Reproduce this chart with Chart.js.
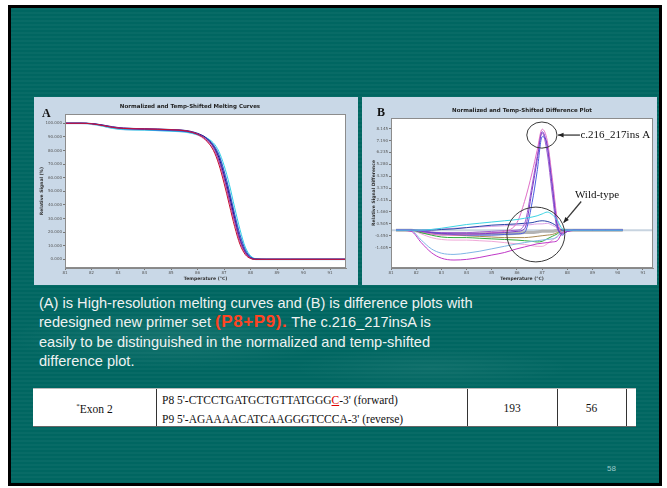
<!DOCTYPE html>
<html>
<head>
<meta charset="utf-8">
<script src="https://cdn.jsdelivr.net/npm/chart.js@4.4.1/dist/chart.umd.min.js"></script>
<style>
  body { margin: 0; width: 667px; height: 488px; overflow: hidden; background: #fff; position: relative;
         font-family: "Liberation Sans", Arial, sans-serif; }
  .slide { position: absolute; left: 8px; top: 5px; width: 654px; height: 481px; box-sizing: border-box;
           border: 3px solid #000;
           background:
             radial-gradient(ellipse 230px 45px at 160px 330px, rgba(255,255,255,0.08), rgba(255,255,255,0) 70%),
             radial-gradient(ellipse 200px 30px at 420px 360px, rgba(255,255,255,0.05), rgba(255,255,255,0) 70%),
             repeating-linear-gradient(180deg, rgba(255,255,255,0.03) 0 2px, rgba(0,0,0,0) 2px 4px),
             #006661; }
  canvas { position: absolute; }
  #chartA { left: 34px; top: 97px; }
  #chartB { left: 362px; top: 97px; }
  .caption { position: absolute; left: 39px; top: 294px; width: 470px; color: #eef2f2;
             font-size: 14.6px; line-height: 19.3px; white-space: nowrap; }
  .caption .hl { color: #ff4422; font-weight: bold; font-size: 17px; line-height: 17px; letter-spacing: 0.6px; }
  .tbl { position: absolute; left: 33px; top: 388px; width: 603px; height: 39px; background: #fff;
         border-top: 1px solid #bbb; border-bottom: 1px solid #666; box-sizing: border-box;
         font-family: "Liberation Serif", "Times New Roman", serif; font-size: 11.5px; color: #111; }
  .tbl .col { position: absolute; top: 0; bottom: 0; border-left: 1px solid #333; }
  .tbl .txt { position: absolute; top: 0; height: 38px; display: flex; align-items: center; justify-content: center; }
  .tbl .primer { position: absolute; left: 129px; top: 2px; line-height: 19px; white-space: nowrap; }
  .tbl .red { color: #e00000; text-decoration: underline; }
  .page { position: absolute; left: 607px; top: 464px; font-size: 8px; color: #9ccaca; }
</style>
</head>
<body>
<div class="slide"></div>
<canvas id="chartA" width="324" height="188"></canvas>
<canvas id="chartB" width="295" height="188"></canvas>

<div class="caption">(A) is High-resolution melting curves and (B) is difference plots with<br>redesigned new primer set <span class="hl">(P8+P9).</span> The c.216_217insA is<br>easily to be distinguished in the normalized and temp-shifted<br>difference plot.</div>

<div class="tbl">
  <div class="txt" style="left:0;width:123px;"><span><sup style="font-size:7px;">*</sup>Exon 2</span></div>
  <div class="col" style="left:123px;"></div>
  <div class="primer">P8 5'-CTCCTGATGCTGTTATGGG<span class="red">C</span>-3' (forward)<br>P9 5'-AGAAAACATCAAGGGTCCCA-3' (reverse)</div>
  <div class="col" style="left:434px;"></div>
  <div class="txt" style="left:434px;width:90px;">193</div>
  <div class="col" style="left:524px;"></div>
  <div class="txt" style="left:524px;width:69px;">56</div>
  <div class="col" style="left:593px;"></div>
</div>

<div class="page">58</div>

<script>
// ---- shared tick labels ----
const xTicks = [81, 82, 83, 84, 85, 86, 87, 88, 89, 90, 91];
const yTicksA = [0, 10, 20, 30, 40, 50, 60, 70, 80, 90, 100];
const yTicksB = [-1.405, -0.450, 0.505, 1.460, 2.415, 3.370, 4.325, 5.280, 6.235, 7.190, 8.145];

// ---- A: normalized melting curves (temperature, relative signal %) ----
const tempsA = [81, 81.6, 82, 82.4, 82.8, 83.2, 84, 85, 85.6, 86, 86.3, 86.6, 86.8, 87, 87.2, 87.4, 87.6, 87.8, 88, 88.2, 88.6, 89.5, 90.5, 91.6];
const meltRed    = [100, 100, 99.6, 98.4, 96.9, 96.2, 95.8, 95.2, 94.2, 91.8, 88, 80, 70, 56, 40, 24, 11, 3.5, 0.6, 0, 0, 0, 0, 0];
const meltPurple = [100, 100, 99.7, 98.6, 97.2, 96.4, 95.9, 95.3, 94.4, 92.2, 89, 82, 73, 60, 44, 28, 14, 5, 1, 0, 0, 0, 0, 0];
const meltNavy   = [100, 100, 99.8, 98.8, 97.4, 96.5, 96, 95.4, 94.6, 92.6, 89.6, 83, 75, 62, 47, 30, 15, 5.5, 1.2, 0.1, 0, 0, 0, 0];
const meltBlue   = [100, 100, 99.7, 98.5, 97, 96, 95.4, 94.6, 93.8, 92, 89.5, 84, 77, 65, 50, 33, 18, 7, 1.8, 0.2, 0, 0, 0, 0];
const meltCyan   = [100, 100, 99.5, 98, 96.3, 95.4, 95, 94.2, 93.4, 91.6, 89.6, 85.5, 79.5, 69, 55, 38, 22, 9, 2.6, 0.4, 0, 0, 0, 0];
const meltPink   = [100, 100, 99.6, 98.3, 96.8, 95.9, 95.5, 94.8, 94, 91.4, 87.5, 80.5, 72, 59, 43, 27, 12.5, 4, 0.8, 0, 0, 0, 0, 0];
const meltSky    = [100, 100, 99.5, 98.1, 96.5, 95.6, 95.2, 94.4, 93.6, 91.7, 89.3, 84, 76.5, 64, 49, 32, 17, 6.5, 1.5, 0.1, 0, 0, 0, 0];
const meltGrey   = [100, 100, 99.6, 98.4, 96.8, 95.8, 95.3, 94.7, 93.9, 92, 89, 82.5, 74, 61, 45.5, 29, 14.5, 5, 1, 0, 0, 0, 0, 0];

// ---- B: difference plot (temperature, signal difference) ----
const tempsB = [81.2, 81.8, 82.2, 82.6, 83, 83.5, 84, 84.5, 85, 85.5, 86, 86.3, 86.6, 86.8, 87, 87.2, 87.4, 87.6, 87.8, 88, 88.5, 89, 89.5, 90.2];
const insPurple = [0, 0, -0.1, -0.2, -0.25, -0.3, -0.3, -0.3, -0.25, -0.2, -0.1, 0.1, 3.2, 5.6, 7.9, 6.7, 3.5, 0.3, -0.3, -0.1, 0, 0, 0, 0];
const insPink   = [0, 0, -0.1, -0.3, -0.4, -0.4, -0.35, -0.3, -0.2, -0.1, 0.6, 2.3, 4.6, 6.4, 8.1, 7.2, 4.2, 0.9, -0.2, -0.1, 0, 0, 0, 0];
const insBlue   = [0, 0, -0.1, -0.2, -0.3, -0.35, -0.4, -0.4, -0.4, -0.35, -0.3, -0.2, 2.2, 4.7, 7.5, 6.9, 3.8, 0.5, -0.4, -0.1, 0, 0, 0, 0];
const insViolet = [0, 0, -0.05, -0.15, -0.2, -0.2, -0.2, -0.15, -0.1, -0.05, 0, 0.5, 3.6, 5.9, 7.8, 6.2, 2.9, 0.1, -0.2, 0, 0, 0, 0, 0];
const wtCyan    = [0, 0, 0, 0.05, 0.15, 0.3, 0.45, 0.55, 0.65, 0.75, 0.85, 0.95, 1.05, 1.15, 1.3, 1.45, 1.25, 0.8, 0.1, 0, 0, 0, 0, 0];
const wtNavy    = [0, 0, 0, 0, 0.05, 0.1, 0.2, 0.3, 0.4, 0.45, 0.5, 0.55, 0.6, 0.7, 0.75, 0.7, 0.55, 0.3, 0, 0, 0, 0, 0, 0];
const wtLilac   = [0, 0, 0, 0.05, 0.1, 0.15, 0.2, 0.25, 0.3, 0.35, 0.4, 0.4, 0.45, 0.5, 0.5, 0.55, 0.4, 0.2, 0, 0, 0, 0, 0, 0];
const wtMagenta = [0, -0.1, -1.0, -1.8, -2.25, -2.4, -2.35, -2.2, -2.0, -1.8, -1.5, -1.35, -1.2, -1.1, -1.05, -1.0, -0.95, -0.85, -0.2, 0, 0, 0, 0, 0];
const wtSky     = [0, -0.05, -0.8, -1.5, -1.85, -1.95, -1.85, -1.7, -1.5, -1.3, -1.1, -1.0, -0.9, -0.85, -0.8, -0.75, -0.7, -0.55, -0.1, 0, 0, 0, 0, 0];
const wtGreen   = [0, 0, -0.2, -0.4, -0.55, -0.6, -0.6, -0.65, -0.7, -0.75, -0.8, -0.85, -0.9, -0.95, -0.9, -0.7, -0.5, -0.3, 0, 0, 0, 0, 0, 0];
const wtRose    = [0, 0, -0.3, -0.6, -0.75, -0.8, -0.8, -0.85, -0.9, -1.0, -1.1, -1.15, -1.25, -1.3, -1.3, -1.1, -0.8, -0.5, 0, 0, 0, 0, 0, 0];
const wtOlive   = [0, 0, -0.1, -0.2, -0.3, -0.4, -0.45, -0.5, -0.55, -0.6, -0.6, -0.6, -0.55, -0.5, -0.45, -0.4, -0.35, -0.2, 0, 0, 0, 0, 0, 0];
const wtGrey    = [0, 0, -0.15, -0.25, -0.3, -0.3, -0.3, -0.3, -0.3, -0.3, -0.25, -0.2, -0.2, -0.15, -0.1, -0.1, -0.1, 0, 0, 0, 0, 0, 0, 0];
const zeroTemps = [81, 91.4];
const zeroVals  = [0, 0];

// callout rings / arrows for plot B (data units)
const peakRing = { t: 86.99, v: 7.63, dt: 0.6, dv: 1.05 };
const wildRing = { t: 86.75, v: -0.35, dt: 1.15, dv: 2.2 };

document.addEventListener("DOMContentLoaded", function () {

    Chart.defaults.font.family = '"DejaVu Sans", sans-serif';
    Chart.defaults.color = '#555';

    // panel colour, white plot area, frame and the big panel letter
    const panelPlugin = {
        id: 'panel',
        beforeDraw(chart, args, opts) {
            const { ctx, chartArea: a, width, height } = chart;
            ctx.save();
            ctx.fillStyle = '#c9d8e7';
            ctx.fillRect(0, 0, width, height);
            ctx.fillStyle = '#fff';
            ctx.fillRect(a.left, a.top, a.right - a.left, a.bottom - a.top);
            ctx.restore();
        },
        afterDraw(chart, args, opts) {
            const { ctx, chartArea: a } = chart;
            ctx.save();
            ctx.strokeStyle = '#8c8c8c';
            ctx.lineWidth = 1;
            ctx.strokeRect(a.left + 0.5, a.top + 0.5, a.right - a.left - 1, a.bottom - a.top - 1);
            ctx.fillStyle = '#111';
            ctx.font = 'bold 12px "Liberation Serif"';
            ctx.fillText(opts.letter, opts.lx, opts.ly);
            ctx.restore();
        }
    };

    function arrow(ctx, x1, y1, x2, y2) {
        const ang = Math.atan2(y2 - y1, x2 - x1);
        ctx.beginPath();
        ctx.moveTo(x1, y1);
        ctx.lineTo(x2, y2);
        ctx.stroke();
        ctx.beginPath();
        ctx.moveTo(x2, y2);
        ctx.lineTo(x2 - 6 * Math.cos(ang - 0.4), y2 - 6 * Math.sin(ang - 0.4));
        ctx.lineTo(x2 - 6 * Math.cos(ang + 0.4), y2 - 6 * Math.sin(ang + 0.4));
        ctx.closePath();
        ctx.fill();
    }

    // rings, arrows and labels on the difference plot
    const calloutPlugin = {
        id: 'callouts',
        afterDatasetsDraw(chart) {
            const { ctx, scales: { x, y } } = chart;
            const px = t => x.getPixelForValue(t);
            const py = v => y.getPixelForValue(v);
            ctx.save();
            ctx.strokeStyle = '#3a3a3a';
            ctx.fillStyle = '#222';
            ctx.lineWidth = 1;
            [peakRing, wildRing].forEach(r => {
                ctx.beginPath();
                ctx.ellipse(px(r.t), py(r.v), Math.abs(px(r.t + r.dt) - px(r.t)),
                    Math.abs(py(r.v + r.dv) - py(r.v)), 0, 0, Math.PI * 2);
                ctx.stroke();
            });
            ctx.lineWidth = 1.3;
            arrow(ctx, px(88.5), py(peakRing.v), px(peakRing.t + peakRing.dt) + 1, py(peakRing.v));
            arrow(ctx, px(88.55), py(2.3), px(87.85), py(0.6));
            ctx.fillStyle = '#111';
            ctx.font = '11px "Liberation Serif"';
            ctx.textBaseline = 'middle';
            ctx.fillText('c.216_217ins A', px(88.52), py(peakRing.v));
            ctx.fillText('Wild-type', px(88.3), py(2.8));
            ctx.restore();
        }
    };

    function series(temps, vals, color, width) {
        return {
            data: temps.map((t, i) => ({ x: t, y: vals[i] })),
            borderColor: color,
            borderWidth: width || 1,
            pointRadius: 0,
            cubicInterpolationMode: 'monotone',
            fill: false
        };
    }

    function axes(xMax, yMin, yMax, yTicks, yTitle, yWidth, yTitlePad) {
        return {
            x: {
                type: 'linear', min: 81, max: xMax,
                afterBuildTicks: s => { s.ticks = xTicks.map(v => ({ value: v })); },
                afterFit: s => { s.height = 17; },
                ticks: { font: { size: 4 }, padding: 1, maxRotation: 0, callback: v => v.toFixed(0) },
                grid: { drawOnChartArea: false, tickLength: 2, color: '#777' },
                border: { color: '#888' },
                title: { display: true, text: 'Temperature (°C)', font: { size: 4.5, weight: 'bold' },
                         color: '#333', padding: { top: 0, bottom: 3.3 } }
            },
            y: {
                min: yMin, max: yMax,
                afterBuildTicks: s => { s.ticks = yTicks.map(v => ({ value: v })); },
                afterFit: s => { s.width = yWidth; },
                ticks: { font: { size: 4 }, padding: 1, callback: v => v.toFixed(3) },
                grid: { drawOnChartArea: false, tickLength: 2, color: '#777' },
                border: { color: '#888' },
                title: { display: true, text: yTitle, font: { size: 4.5, weight: 'bold' },
                         color: '#333', padding: { top: yTitlePad, bottom: 0 } }
            }
        };
    }

    function melting() {
        const ctx = document.getElementById('chartA').getContext('2d');
        new Chart(ctx, {
            type: 'line',
            data: {
                datasets: [
                    series(tempsA, meltRed, '#c4102e'),
                    series(tempsA, meltPurple, '#9030b0'),
                    series(tempsA, meltNavy, '#14147a'),
                    series(tempsA, meltBlue, '#3050d0'),
                    series(tempsA, meltCyan, '#30d0e8'),
                    series(tempsA, meltPink, '#e080c0'),
                    series(tempsA, meltSky, '#a8d0f0', 2),
                    series(tempsA, meltGrey, '#9a9ab8')
                ]
            },
            options: {
                responsive: false,
                animation: false,
                layout: { padding: { left: 0, right: 12, top: 0, bottom: 0 } },
                scales: axes(91.6, -6.4, 106.8, yTicksA, 'Relative Signal (%)', 31, 5),
                plugins: {
                    legend: { display: false },
                    tooltip: { enabled: false },
                    title: { display: true, text: 'Normalized and Temp-Shifted Melting Curves',
                             font: { size: 5.5, weight: 'bold' }, color: '#222',
                             padding: { top: 6.7, bottom: 3.7 } },
                    panel: { letter: 'A', lx: 8, ly: 20 }
                }
            },
            plugins: [panelPlugin]
        });
    }

    function difference() {
        const ctx = document.getElementById('chartB').getContext('2d');
        new Chart(ctx, {
            type: 'line',
            data: {
                // first dataset is drawn on top
                datasets: [
                    series(tempsB, wtCyan, '#3cd4e4'),
                    series(tempsB, insPurple, '#7a3cc8'),
                    series(tempsB, insPink, '#e070c8'),
                    series(tempsB, insBlue, '#4a5ee0'),
                    series(tempsB, insViolet, '#a060d0'),
                    series(tempsB, wtNavy, '#2844a8'),
                    series(tempsB, wtLilac, '#d8a0e8'),
                    series(tempsB, wtMagenta, '#c038c8'),
                    series(tempsB, wtSky, '#7fb6e6'),
                    series(tempsB, wtGreen, '#2fae3a'),
                    series(tempsB, wtRose, '#f0a8d8'),
                    series(tempsB, wtOlive, '#a88850'),
                    series(tempsB, wtGrey, '#b4b4b4', 3),
                    series(zeroTemps, zeroVals, '#c8d4e0', 2)
                ]
            },
            options: {
                responsive: false,
                animation: false,
                layout: { padding: { left: 0, right: 4, top: 0, bottom: 0 } },
                scales: axes(91.4, -3.04, 9.0, yTicksB, 'Relative Signal Difference', 29, 9.3),
                plugins: {
                    legend: { display: false },
                    tooltip: { enabled: false },
                    title: { display: true, fullSize: false, text: 'Normalized and Temp-Shifted Difference Plot',
                             font: { size: 5.5, weight: 'bold' }, color: '#222',
                             padding: { top: 10.7, bottom: 3.7 } },
                    panel: { letter: 'B', lx: 15, ly: 19 }
                }
            },
            plugins: [panelPlugin, calloutPlugin]
        });
    }

    melting();
    difference();
});
</script>
</body>
</html>
